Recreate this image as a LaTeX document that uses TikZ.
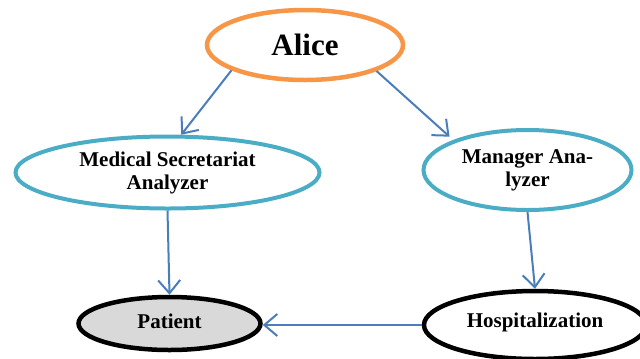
\documentclass[tikz,border=0pt]{standalone}
\usepackage{fontspec}
\setmainfont{Liberation Serif}
\usetikzlibrary{shapes.geometric,arrows.meta}
\definecolor{aliceorange}{HTML}{F79646}
\definecolor{nodeteal}{HTML}{4BACC6}
\definecolor{arrowblue}{HTML}{4A7EBB}
\definecolor{patientgray}{HTML}{D9D9D9}
\tikzset{
  oval/.style={ellipse, draw, inner sep=0pt, align=center, font=\bfseries\fontsize{21bp}{23bp}\selectfont},
  tealoval/.style={oval, draw=nodeteal, line width=4bp},
  blackoval/.style={oval, draw=black, line width=4.5bp},
  link/.style={draw=arrowblue, line width=2bp, -{Straight Barb[length=13bp,width=22bp,line width=2bp]}}
}
\begin{document}
\begin{tikzpicture}[x=1bp,y=-1bp]
\useasboundingbox (0,0) rectangle (640,358);
\node[oval, draw=aliceorange, line width=4.5bp, minimum width=196bp, minimum height=70bp,
      font=\bfseries\fontsize{31bp}{33bp}\selectfont] (alice) at (305,45) {Alice};
\node[tealoval, minimum width=304bp, minimum height=72bp] (msa) at (167.5,172.5)
  {Medical Secretariat\\Analyzer};
\node[tealoval, minimum width=208bp, minimum height=80bp] (mgr) at (527.5,170)
  {\raisebox{3bp}{Manager Ana-}\\\raisebox{3bp}{lyzer}};
\node[blackoval, fill=patientgray, minimum width=182bp, minimum height=53bp] (patient) at (169.5,323.5)
  {\raisebox{4bp}{Patient}};
\node[blackoval, fill=white, minimum width=222bp, minimum height=68bp] (hosp) at (535,325)
  {\raisebox{9bp}{Hospitalization}};
\draw[link] (alice.199) -- (msa.70);
\draw[link, shorten >=5bp] (alice.340) -- (mgr.158);
\draw[link] (msa.south) -- (patient.north);
\draw[link] (mgr.south) -- (hosp.north);
\draw[link] (hosp.west) -- (patient.east |- hosp.west);
\end{tikzpicture}
\end{document}
